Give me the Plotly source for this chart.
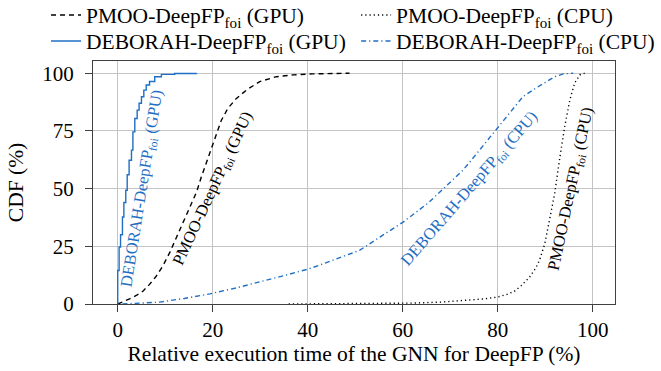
import plotly.graph_objects as go

# ---- data ----
deb_gpu_x = [0, 0, 0.3, 0.6, 1.0, 1.3, 1.7, 2.0, 2.4, 2.9, 3.2, 3.6, 4.1, 4.5, 5.0, 5.5, 6.0, 6.7, 7.8, 9.2, 12.0, 16.6]
deb_gpu_y = [0, 14.5, 24.7, 30, 37.7, 44, 49.3, 56, 62.3, 66.7, 74.6, 80.4, 84, 87, 89.8, 92.7, 94.9, 96.4, 98.5, 99.5, 99.9, 100]

pmoo_gpu_x = [0, 1, 2.5, 4, 5.3, 6.7, 8.1, 9.5, 11, 12.4, 13.8, 15.2, 16.6, 17.6, 18.7, 19.7, 20.8, 21.8, 23.2, 25, 27.1, 29.9, 33.4, 37, 41, 45, 48.8]
pmoo_gpu_y = [0, 0.8, 2.2, 3.8, 5.5, 8.5, 12, 16.5, 22.5, 29, 35.5, 42, 48.5, 55, 61.5, 67.5, 74, 79.5, 84.8, 89.1, 92.7, 96.4, 98.5, 99.3, 99.7, 99.9, 100]

deb_cpu_x = [1, 5, 8.8, 14, 19.4, 25, 29.9, 35, 40.4, 45, 50.9, 55.2, 60.1, 65.5, 69, 72.7, 76.5, 80.1, 83, 85.3, 88, 90.2, 92, 93.8, 95.9]
deb_cpu_y = [0, 0.3, 0.8, 2.4, 4.4, 7, 9.5, 12.3, 15.3, 18.8, 23.2, 29, 35.5, 44, 51, 58, 67.5, 76.8, 84, 89.8, 93.5, 96.4, 98.5, 99.7, 100]

pmoo_cpu_x = [36, 45, 55, 62, 68, 73, 77, 80, 82, 83.5, 85, 86.7, 88, 88.8, 89.9, 90.9, 92, 93, 94.1, 95.2, 96.2, 97.3, 98.3]
pmoo_cpu_y = [0, 0.05, 0.2, 0.4, 0.8, 1.4, 2.2, 3, 4.2, 5.5, 8, 11.6, 15.5, 18.9, 26, 36.3, 47.9, 62.3, 76.8, 88.4, 95.7, 99.3, 100]

x_ticks = [0, 20, 40, 60, 80, 100]
y_ticks = [0, 25, 50, 75, 100]

names = {
    "pmoo_gpu": "PMOO-DeepFP<sub>foi</sub> (GPU)",
    "pmoo_cpu": "PMOO-DeepFP<sub>foi</sub> (CPU)",
    "deb_gpu": "DEBORAH-DeepFP<sub>foi</sub> (GPU)",
    "deb_cpu": "DEBORAH-DeepFP<sub>foi</sub> (CPU)",
}

# label positions (data coords) and angles
labels = [
    ("deb_gpu", 5.0, 50, -81),
    ("pmoo_gpu", 19.9, 50, -65),
    ("deb_cpu", 73.9, 50, -49),
    ("pmoo_cpu", 95.3, 50, -78),
]

BLUE = "#1f6fc4"
BLACK = "#000000"
FONT = "Liberation Serif"

fig = go.Figure()
fig.add_trace(go.Scatter(x=pmoo_gpu_x, y=pmoo_gpu_y, mode="lines", name=names["pmoo_gpu"],
                         line=dict(color=BLACK, width=1.4, dash="5px,4px"), legend="legend"))
fig.add_trace(go.Scatter(x=pmoo_cpu_x, y=pmoo_cpu_y, mode="lines", name=names["pmoo_cpu"],
                         line=dict(color=BLACK, width=1.4, dash="1.2px,3px"), legend="legend2"))
fig.add_trace(go.Scatter(x=deb_gpu_x, y=deb_gpu_y, mode="lines", name=names["deb_gpu"],
                         line=dict(color=BLUE, width=1.4, shape="hv"), legend="legend3"))
fig.add_trace(go.Scatter(x=deb_cpu_x, y=deb_cpu_y, mode="lines", name=names["deb_cpu"],
                         line=dict(color=BLUE, width=1.4, dash="5px,3px,1.2px,3px"), legend="legend4"))

colors = {"deb_gpu": BLUE, "deb_cpu": BLUE, "pmoo_gpu": BLACK, "pmoo_cpu": BLACK}
for key, lx, ly, ang in labels:
    fig.add_annotation(x=lx, y=ly, text=names[key], textangle=ang, showarrow=False,
                       xanchor="center", yanchor="middle",
                       font=dict(family=FONT, size=16.5, color=colors[key]))

axis_common = dict(
    showgrid=True, gridcolor="#c4c4c4", gridwidth=1,
    showline=True, linecolor="#404040", linewidth=1.2, mirror=True,
    ticks="outside", ticklen=7, tickcolor="#404040", tickwidth=1,
    zeroline=False,
    tickfont=dict(family=FONT, size=21, color="black"),
)

fig.update_xaxes(range=[-5.2, 104.7], tickvals=x_ticks,
                 title=dict(text="Relative execution time of the GNN for DeepFP (%)",
                            font=dict(family=FONT, size=21.5, color="black"), standoff=4),
                 **axis_common)
fig.update_yaxes(range=[0, 105.3], tickvals=y_ticks, ticklabelstandoff=7,
                 title=dict(text="CDF (%)", font=dict(family=FONT, size=21.5, color="black"), standoff=12),
                 **axis_common)

legend_common = dict(orientation="v", yanchor="middle", xanchor="left",
                     bgcolor="rgba(0,0,0,0)", borderwidth=0, tracegroupgap=0,
                     font=dict(family=FONT, size=21.5, color="black"),
                     itemwidth=30)
row1, row2 = 1.189, 1.082
col1, col2 = -0.090, 0.504
fig.update_layout(
    width=661, height=371,
    margin=dict(l=93, r=46, t=61, b=67, autoexpand=False),
    plot_bgcolor="white", paper_bgcolor="white",
    showlegend=True,
    legend=dict(x=col1, y=row1, **legend_common),
    legend2=dict(x=col2, y=row1, **legend_common),
    legend3=dict(x=col1, y=row2, **legend_common),
    legend4=dict(x=col2, y=row2, **legend_common),
    font=dict(family=FONT, size=21, color="black"),
)

fig.write_html("out.html")
